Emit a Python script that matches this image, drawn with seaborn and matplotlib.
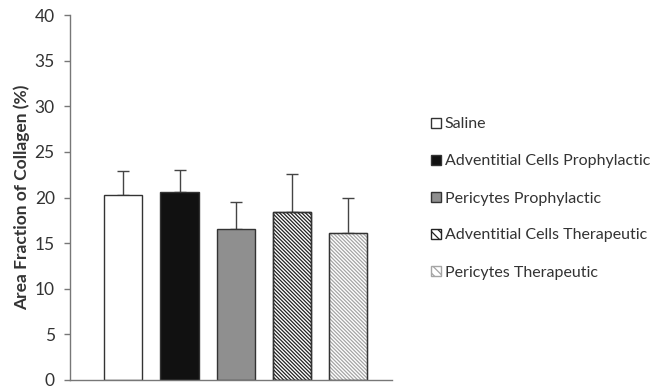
import matplotlib
matplotlib.use("Agg")
import matplotlib.pyplot as plt
import matplotlib.patches as mpatches
import seaborn as sns
import pandas as pd

groups = ["Saline", "Adventitial Cells Prophylactic", "Pericytes Prophylactic",
          "Adventitial Cells Therapeutic", "Pericytes Therapeutic"]
means = [20.3, 20.6, 16.6, 18.4, 16.1]
errors = [2.6, 2.4, 2.9, 4.2, 3.8]
yticks = [0, 5, 10, 15, 20, 25, 30, 35, 40]

fills = ["#ffffff", "#111111", "#8f8f8f", "#ffffff", "#ffffff"]
hatches = [None, None, None, "\\" * 9, "\\" * 9]
hatch_colors = ["#333333", "#333333", "#333333", "#222222", "#a5a5a5"]
EDGE = "#333333"

sns.set_theme(style="white")
plt.rcParams['font.family'] = ['Lato', 'DejaVu Sans']
plt.rcParams['hatch.linewidth'] = 0.9

df = pd.DataFrame({"group": groups, "mean": means})

fig = plt.figure(figsize=(6.62, 3.89), dpi=100)
ax = fig.add_axes([70/662, 1-380/389, (392-70)/662, 365/389])

sns.barplot(data=df, x="group", y="mean", order=groups, ax=ax, width=0.68,
            errorbar=None, color="white", edgecolor=EDGE, linewidth=1.0)

handles = []
bars = list(ax.patches)
for i, p in enumerate(bars):
    p.set_facecolor(fills[i])
    if hatches[i]:
        p.set_hatch(hatches[i])
        p.set_edgecolor(hatch_colors[i])
        # crisp outline on top
        ax.add_patch(mpatches.Rectangle((p.get_x(), p.get_y()), p.get_width(), p.get_height(),
                                        fill=False, edgecolor=EDGE, linewidth=1.0, zorder=p.get_zorder() + 0.1))
        h = mpatches.Patch(facecolor=fills[i], edgecolor=hatch_colors[i], linewidth=1.0,
                           hatch="\\" * 4)
    else:
        p.set_edgecolor(EDGE)
        h = mpatches.Patch(facecolor=fills[i], edgecolor=EDGE, linewidth=1.0)
    handles.append(h)

xs = [p.get_x() + p.get_width()/2 for p in bars]
ax.errorbar(xs, means, yerr=[[0]*len(errors), errors], fmt="none",
            ecolor="#444444", elinewidth=1.0, capsize=4.5, capthick=1.0, zorder=0)

ax.set_ylim(0, 40)
ax.set_xlim(-0.95, 4.78)
ax.set_yticks(yticks)
ax.set_yticklabels([str(t) for t in yticks], fontsize=12.5, color="#333333")
ax.set_xticks([])
ax.set_xlabel("")
ax.set_ylabel("Area Fraction of Collagen (%)", fontsize=12.5, fontweight="bold",
              color="#333333", labelpad=3)
sns.despine(ax=ax)
for s in ["left", "bottom"]:
    ax.spines[s].set_color("#777777")
    ax.spines[s].set_linewidth(1.0)
ax.tick_params(axis="y", left=True, length=4, width=1.0, color="#777777", pad=7)

fig.legend(handles, groups, loc="center left", bbox_to_anchor=(431/662, 1-198.5/389),
           frameon=False, fontsize=11.5, handlelength=0.65, handleheight=0.65,
           handletextpad=0.2, labelspacing=1.44, borderpad=0, borderaxespad=0,
           labelcolor="#333333")

fig.savefig("out.png", dpi=100, facecolor="white")
